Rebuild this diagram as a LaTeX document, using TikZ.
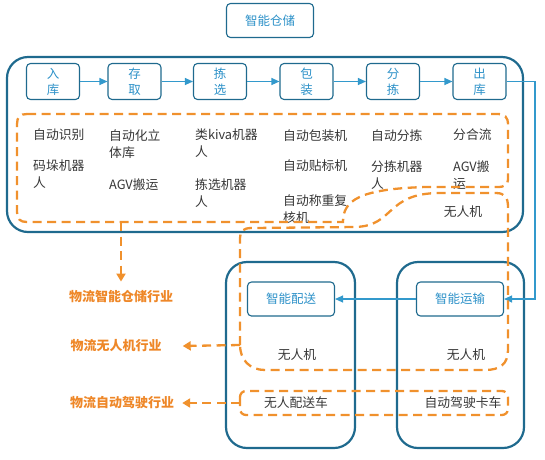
\documentclass[tikz,border=0pt]{standalone}
\usepackage{fontspec}
\setmainfont{Noto Sans CJK SC}
\usetikzlibrary{arrows.meta}
\definecolor{boxblue}{RGB}{31,106,142}
\definecolor{lineblue}{RGB}{51,153,204}
\definecolor{textblue}{RGB}{45,145,200}
\definecolor{zoneorange}{RGB}{240,145,45}
\definecolor{tradeorange}{RGB}{238,135,40}
\definecolor{bodygray}{RGB}{55,55,55}
\begin{document}
\begin{tikzpicture}[x=1pt,y=-1pt,
    bigbox/.style={draw=boxblue,line width=2.2pt,rounded corners=21pt},
    stepbox/.style={draw=boxblue,line width=1.1pt,rounded corners=4pt,minimum width=53pt,minimum height=36pt,inner sep=0pt,align=center,text=textblue,font=\fontsize{12.5}{16}\selectfont},
    modebox/.style={draw=boxblue,line width=1.1pt,rounded corners=4pt,minimum width=87pt,minimum height=34pt,inner sep=0pt,text=textblue,font=\fontsize{12.5}{16}\selectfont},
    flow/.style={lineblue,line width=1.1pt,-{Triangle[length=8pt,width=7pt]}},
    zone/.style={zoneorange,line width=2.3pt,dash pattern=on 9pt off 5.5pt},
    zonearrow/.style={zone,-{Triangle[length=8pt,width=9pt]}},
    item/.style={anchor=north west,align=left,inner sep=0pt,text=bodygray,font=\fontsize{12.8}{17}\selectfont},
    tech/.style={inner sep=0pt,text=bodygray,font=\fontsize{12.8}{17}\selectfont},
    trade/.style={inner sep=0pt,text=tradeorange,font=\fontsize{13}{16}\selectfont\bfseries}]
    \useasboundingbox (0,0) rectangle (545,459);

    % Title
    \node[modebox] (title) at (270,20.5) {智能仓储};

    % Warehouse steps
    \draw[bigbox] (7,57) rectangle (523,232);
    \node[stepbox] (ruku) at (53,81.5) {入\\库};
    \node[stepbox] (cunqu) at (134.5,81.5) {存\\取};
    \node[stepbox] (jianxuan) at (220,81.5) {拣\\选};
    \node[stepbox] (baozhuang) at (306.5,81.5) {包\\装};
    \node[stepbox] (fenjian) at (393,81.5) {分\\拣};
    \node[stepbox] (chuku) at (479.5,81.5) {出\\库};
    \draw[flow] (ruku) -- (cunqu);
    \draw[flow] (cunqu) -- (jianxuan);
    \draw[flow] (jianxuan) -- (baozhuang);
    \draw[flow] (baozhuang) -- (fenjian);
    \draw[flow] (fenjian) -- (chuku);

    % Equipment under each step
    \node[item] (zdsb) at (33,129) {自动识别};
    \node[item] (mdjq) at (33,160) {码垛机器\\人};
    \node[item] (zdhlt) at (109,129) {自动化立\\体库};
    \node[item] (agva) at (109,178) {AGV搬运};
    \node[item] (kiva) at (195,129) {类kiva机器\\人};
    \node[item] (jxjq) at (195,178) {拣选机器\\人};
    \node[item] (zdbz) at (283,129) {自动包装机};
    \node[item] (zdtb) at (283,160) {自动贴标机};
    \node[item] (zdcz) at (283,195) {自动称重复\\核机};
    \node[item] (zdfj) at (371,129) {自动分拣};
    \node[item] (fjjq) at (371,160) {分拣机器\\人};
    \node[item] (fhl) at (453,129) {分合流};
    \node[item] (agvb) at (453,160) {AGV搬\\运};
    \node[tech] (uavc) at (463,212) {无人机};

    % Transport and delivery
    \draw[bigbox] (226,262) rectangle (355,448);
    \draw[bigbox] (397,262) rectangle (524,448);
    \node[modebox] (peisong) at (291,299) {智能配送};
    \node[modebox] (yunshu) at (460,299) {智能运输};
    \coordinate (bend) at (535,0);
    \draw[flow] (chuku.east) -- (chuku.east -| bend) -- (yunshu.east -| bend) -- (yunshu.east);
    \draw[flow] (yunshu) -- (peisong);
    \node[tech] (uava) at (297,355) {无人机};
    \node[tech] (uavb) at (466,355) {无人机};
    \node[tech] (wrps) at (296,403) {无人配送车};
    \node[tech] (zdjs) at (463,403) {自动驾驶卡车};

    % Dashed zones
    \draw[zone] (27,114) -- (497,114) .. controls (505,114) and (508,117) .. (508,125) -- (508,178)
        .. controls (508,185) and (505,187) .. (497,187) -- (425,187)
        .. controls (360,189) and (343,200) .. (343,222) -- (27,222)
        .. controls (20,222) and (17,219) .. (17,212) -- (17,124)
        .. controls (17,117) and (20,114) .. (27,114);
    \draw[zone] (240,345) -- (240,238) .. controls (240,231) and (243,228) .. (252,228) -- (355,227)
        .. controls (395,226) and (385,193) .. (440,193) -- (496,193)
        .. controls (505,193) and (508,198) .. (508,207) -- (508,350)
        .. controls (508,364) and (500,370) .. (485,370) -- (265,370)
        .. controls (250,370) and (240,360) .. (240,345);
    \draw[zone,rounded corners=6pt] (240,391) rectangle (508,415);

    % Industries
    \node[trade] (lblware) at (121,296) {物流智能仓储行业};
    \node[trade] (lbluav) at (116,346) {物流无人机行业};
    \node[trade] (lbltruck) at (122,403) {物流自动驾驶行业};
    \coordinate (wareout) at (121,222);
    \coordinate (uavout) at (240,345);
    \coordinate (truckout) at (240,403);
    \draw[zonearrow] (wareout) -- ([yshift=8pt]lblware.north);
    \draw[zonearrow] (uavout) -- ([xshift=21pt]lbluav.east);
    \draw[zonearrow] (truckout) -- ([xshift=8pt]lbltruck.east);
\end{tikzpicture}
\end{document}
